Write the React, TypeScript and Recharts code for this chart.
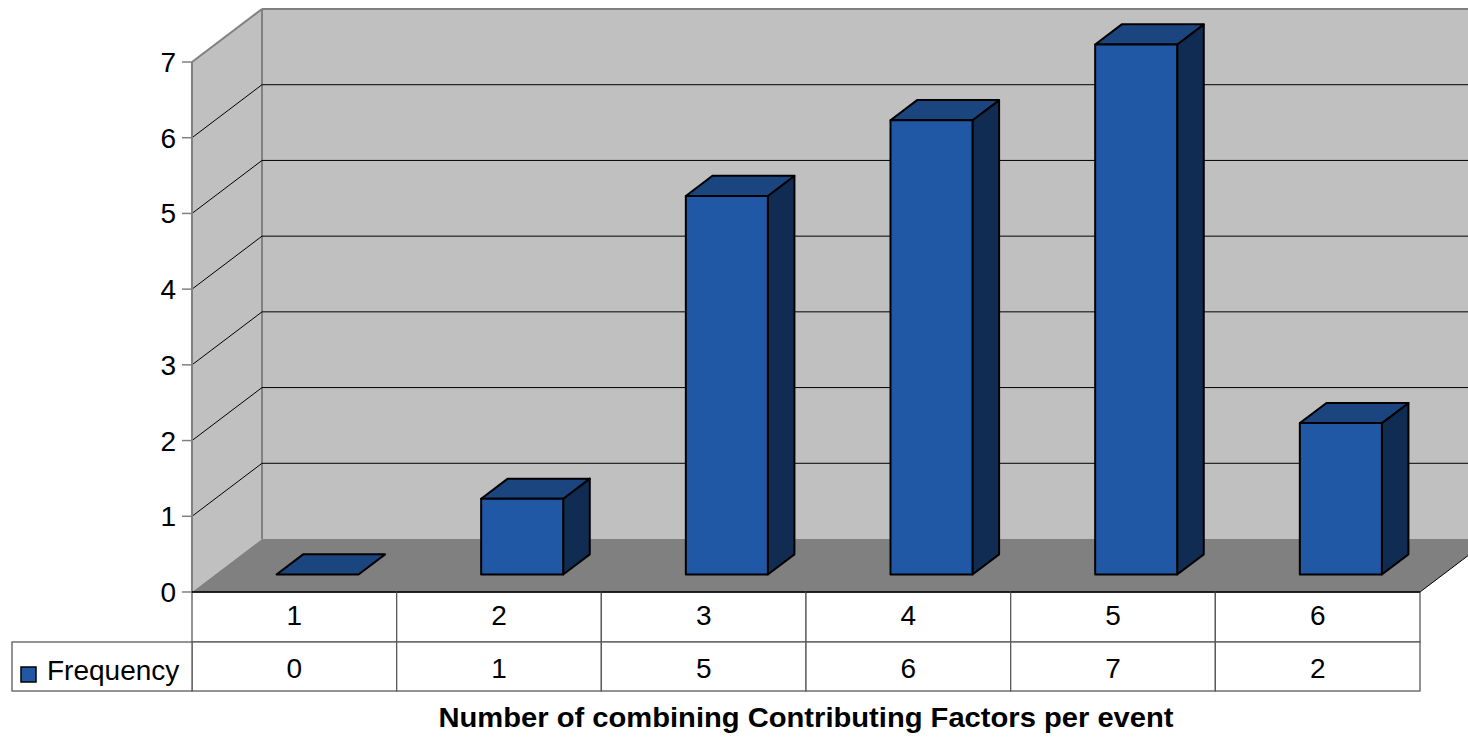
import React from 'react'
import {
  BarChart,
  Bar,
  XAxis,
  YAxis,
  CartesianGrid,
  ReferenceArea,
  Label,
} from 'recharts'

const categories = ['1', '2', '3', '4', '5', '6']
const frequency = [0, 1, 5, 6, 7, 2]
const yTicks = [0, 1, 2, 3, 4, 5, 6, 7]
const seriesName = 'Frequency'
const axisTitle = 'Number of combining Contributing Factors per event'

const data = categories.map((c, i) => ({ name: c, value: frequency[i] }))

const FONT = '"Liberation Sans", Arial, sans-serif'

// depth of the 3d box (back wall offset)
const DX = 70
const DY = 53
// bars sit between these fractions of the depth
const FRONT = 0.33
const BACK = 0.71

const WALL = '#c0c0c0'
const FLOOR = '#808080'
const EDGE = '#808080'
const BAR_FRONT = '#2158a6'
const BAR_TOP = '#1a457f'
const BAR_SIDE = '#112c52'
const TABLE_LINE = '#5a5a5a'

function Walls(props: any) {
  const { x, y, width: w, height: h } = props
  const bottom = y + h
  return (
    <g>
      <rect x={x + DX} y={y - DY} width={w} height={h} fill={WALL} />
      <polygon
        points={`${x},${y} ${x + DX},${y - DY} ${x + DX},${bottom - DY} ${x},${bottom}`}
        fill={WALL}
      />
      <polygon
        points={`${x},${bottom} ${x + w},${bottom} ${x + w + DX},${bottom - DY} ${x + DX},${bottom - DY}`}
        fill={FLOOR}
      />
      <line x1={x + w} y1={bottom} x2={x + w + DX} y2={bottom - DY} stroke="#000" strokeWidth={1} />
      <line x1={x + DX} y1={y - DY} x2={x + DX} y2={bottom - DY} stroke={EDGE} strokeWidth={2} />
      <line x1={x + DX} y1={y - DY} x2={x + w + DX} y2={y - DY} stroke={EDGE} strokeWidth={2} />
      <line x1={x} y1={y} x2={x + DX} y2={y - DY} stroke={EDGE} strokeWidth={2} />
    </g>
  )
}

function GridLine(props: any) {
  const { x1, y1, x2, y, height } = props
  // top edge and floor are drawn with the walls
  if (Math.abs(y1 - y) < 1 || Math.abs(y1 - (y + height)) < 1) return <g key={props.key} />
  return (
    <g key={props.key}>
      <line x1={x1} y1={y1} x2={x1 + DX} y2={y1 - DY} stroke="#000" strokeWidth={1} />
      <line x1={x1 + DX} y1={y1 - DY} x2={x2 + DX} y2={y1 - DY} stroke="#000" strokeWidth={1} />
    </g>
  )
}

function Box3D(props: any) {
  const { x, y, width: w, height: h } = props
  const X = x + DX * FRONT
  const Y = y - DY * FRONT
  const dx = DX * (BACK - FRONT)
  const dy = DY * (BACK - FRONT)
  const hh = Math.max(h, 0)
  return (
    <g stroke="#000" strokeWidth={2} strokeLinejoin="round">
      {hh > 0 && (
        <polygon
          points={`${X + w},${Y} ${X + w + dx},${Y - dy} ${X + w + dx},${Y + hh - dy} ${X + w},${Y + hh}`}
          fill={BAR_SIDE}
        />
      )}
      <polygon
        points={`${X},${Y} ${X + w},${Y} ${X + w + dx},${Y - dy} ${X + dx},${Y - dy}`}
        fill={BAR_TOP}
      />
      {hh > 0 && <rect x={X} y={Y} width={w} height={hh} fill={BAR_FRONT} />}
    </g>
  )
}

// data table under the plot: category row + value row
function TableTick(props: any) {
  const { x, y, index, visibleTicksCount, width } = props
  const bw = (width ?? 1228) / (visibleTicksCount ?? categories.length)
  const left = x - bw / 2
  const r1 = 50
  const r2 = 49
  return (
    <g>
      <rect x={left} y={y} width={bw} height={r1} fill="#fff" stroke={TABLE_LINE} strokeWidth={1.3} />
      <rect x={left} y={y + r1} width={bw} height={r2} fill="#fff" stroke={TABLE_LINE} strokeWidth={1.3} />
      <text x={x} y={y + 33} textAnchor="middle" fontSize={28} fontFamily={FONT} fill="#000">
        {categories[index]}
      </text>
      <text x={x} y={y + 86} textAnchor="middle" fontSize={28} fontFamily={FONT} fill="#000">
        {frequency[index]}
      </text>
      {index === 0 && (
        <g>
          <rect x={12} y={y + r1} width={left - 12} height={r2} fill="#fff" stroke={TABLE_LINE} strokeWidth={1.3} />
          <rect x={21} y={y + 75} width={15} height={15} fill={BAR_FRONT} stroke="#000" strokeWidth={1.5} />
          <text x={47} y={y + 88} fontSize={28} fontFamily={FONT} fill="#000">
            {seriesName}
          </text>
        </g>
      )}
      <line x1={left} y1={y} x2={left + bw} y2={y} stroke="#000" strokeWidth={1.5} />
    </g>
  )
}

function AxisTitle(props: any) {
  const vb = props.viewBox || { x: 192, y: 592, width: 1228 }
  return (
    <text
      x={vb.x + vb.width / 2}
      y={vb.y + 135}
      textAnchor="middle"
      fontSize={28}
      fontWeight="bold"
      fontFamily={FONT}
      fill="#000"
      textLength={735}
      lengthAdjust="spacingAndGlyphs"
    >
      {axisTitle}
    </text>
  )
}

export default function App() {
  return (
    <div style={{ position: 'absolute', left: 0, top: 0, background: '#fff' }}>
      <BarChart
        width={1468}
        height={739}
        data={data}
        margin={{ top: 62, right: 48, bottom: 2, left: 132 }}
        barCategoryGap="30%"
      >
        <ReferenceArea y1={0} y2={7} shape={Walls} zIndex={-200} ifOverflow="visible" />
        <CartesianGrid vertical={false} horizontal={GridLine} />
        <XAxis
          dataKey="name"
          height={145}
          axisLine={false}
          tickLine={false}
          tickSize={0}
          tickMargin={0}
          interval={0}
          tick={TableTick}
        >
          <Label content={AxisTitle} />
        </XAxis>
        <YAxis
          width={60}
          domain={[0, 7]}
          ticks={yTicks}
          interval={0}
          tickSize={10}
          tickMargin={6}
          axisLine={{ stroke: EDGE, strokeWidth: 2 }}
          tickLine={{ stroke: EDGE, strokeWidth: 1.5 }}
          tick={{ fontSize: 28, fontFamily: FONT, fill: '#000' }}
        />
        <Bar dataKey="value" shape={Box3D} isAnimationActive={false} />
      </BarChart>
    </div>
  )
}
